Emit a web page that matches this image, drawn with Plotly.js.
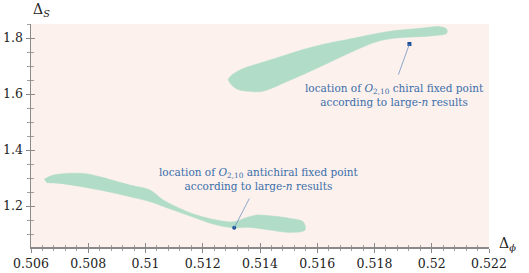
<!DOCTYPE html>
<html><head><meta charset="utf-8">
<script src="https://cdn.plot.ly/plotly-3.0.1.min.js"></script>
<style>html,body{margin:0;padding:0;background:#fff}</style>
</head><body>
<div id="chart" style="width:529px;height:273px"></div>
<script>
// Upper island (chiral) outline
const chiralX = [0.51288,0.51295,0.51330,0.51435,0.51586,0.51726,0.51843,0.51959,0.52029,0.52052,0.52052,0.52005,0.51866,0.51808,0.51749,0.51610,0.51493,0.51412,0.51377,0.51319,0.51295];
const chiralY = [1.6500,1.6618,1.6857,1.7214,1.7689,1.7989,1.8225,1.8346,1.8404,1.8321,1.8168,1.8082,1.7989,1.7868,1.7632,1.6975,1.6439,1.6107,1.6082,1.6179,1.6382];
// Lower island (antichiral) outline
const antiX = [0.50646,0.50678,0.50783,0.50841,0.50946,0.51016,0.51062,0.51120,0.51179,0.51249,0.51307,0.51354,0.51388,0.51435,0.51505,0.51551,0.51557,0.51505,0.51435,0.51365,0.51307,0.51249,0.51179,0.51097,0.51016,0.50946,0.50841,0.50701,0.50655];
const antiY = [1.2954,1.3107,1.3168,1.3046,1.2750,1.2571,1.2214,1.1918,1.1679,1.1500,1.1439,1.1596,1.1679,1.1654,1.1561,1.1439,1.1143,1.1061,1.1143,1.1239,1.1225,1.1321,1.1561,1.1857,1.2154,1.2332,1.2571,1.2811,1.2832];
// Large-n fixed points
const pointX = [0.51922, 0.51310];
const pointY = [1.7786, 1.1225];
const pointSymbols = ["square","circle"];
// Ticks
const xTickVals = [0.506,0.508,0.510,0.512,0.514,0.516,0.518,0.520,0.522];
const xTickText = ["0.506","0.508","0.51","0.512","0.514","0.516","0.518","0.52","0.522"];
const yTickVals = [1.2,1.4,1.6,1.8];
const yTickText = ["1.2","1.4","1.6","1.8"];
const xRange = [0.506, 0.522];
const yRange = [1.054, 1.85];

const green = '#b1dcc7';
const traces = [
  {x: chiralX, y: chiralY, mode:'lines', fill:'toself', fillcolor:green,
   line:{color:green, width:0.5, shape:'spline', smoothing:1}, hoverinfo:'skip', showlegend:false},
  {x: antiX, y: antiY, mode:'lines', fill:'toself', fillcolor:green,
   line:{color:green, width:0.5, shape:'spline', smoothing:1}, hoverinfo:'skip', showlegend:false},
  {x: pointX, y: pointY, mode:'markers', marker:{color:'#1b4f9a', size:4, symbol:pointSymbols},
   showlegend:false, hoverinfo:'skip'},
  {x: [], y: [], xaxis:'x2', yaxis:'y2', showlegend:false}
];

const serif = 'DejaVu Serif';
const axisColor = '#8a8a8a';
const tickFont = {family: serif, size: 12.5, color:'#222'};
const textBlue = '#3a6eaa';

const layout = {
  width:529, height:273,
  margin:{l:31, r:40, t:24, b:26},
  paper_bgcolor:'#ffffff', plot_bgcolor:'#fdf1ed',
  showlegend:false,
  xaxis:{range:xRange, tickvals:xTickVals, ticktext:xTickText, ticks:'outside', ticklen:4,
    tickcolor:axisColor, tickwidth:1, showline:true, linecolor:axisColor, linewidth:1.5,
    showgrid:false, zeroline:false, tickfont:tickFont,
    minor:{dtick:0.0004, tick0:0.506, ticks:'outside', ticklen:2.5, tickcolor:axisColor, tickwidth:0.8}},
  yaxis:{range:yRange, tickvals:yTickVals, ticktext:yTickText, ticks:'outside', ticklen:4,
    tickcolor:axisColor, tickwidth:1, showline:true, linecolor:axisColor, linewidth:1.5,
    showgrid:false, zeroline:false, tickfont:tickFont,
    minor:{dtick:0.05, tick0:1.05, ticks:'outside', ticklen:2.5, tickcolor:axisColor, tickwidth:0.8}},
  xaxis2:{range:xRange, overlaying:'x', anchor:'y2', side:'bottom', tickvals:xTickVals, ticks:'inside', ticklen:4,
    tickcolor:axisColor, tickwidth:1, showticklabels:false, showline:false, showgrid:false, zeroline:false,
    minor:{dtick:0.0004, tick0:0.506, ticks:'inside', ticklen:2.5, tickcolor:axisColor, tickwidth:0.8}},
  yaxis2:{range:yRange, overlaying:'y', anchor:'x2', side:'left', tickvals:yTickVals, ticks:'inside', ticklen:4,
    tickcolor:axisColor, tickwidth:1, showticklabels:false, showline:false, showgrid:false, zeroline:false,
    minor:{dtick:0.05, tick0:1.05, ticks:'inside', ticklen:2.5, tickcolor:axisColor, tickwidth:0.8}},
  annotations:[
    {xref:'paper', yref:'paper', x:0, y:1, xshift:0, yshift:3, xanchor:'left', yanchor:'bottom',
     text:'Δ<sub><i>S</i></sub>', showarrow:false, font:{family:serif, size:14, color:'#222'}},
    {xref:'paper', yref:'paper', x:1, y:0, xshift:8, yshift:-8, xanchor:'left', yanchor:'bottom',
     text:'Δ<sub><i>ϕ</i></sub>', showarrow:false, font:{family:serif, size:14, color:'#222'}},
    // leader lines
    {x:pointX[0], y:pointY[0], ax:-14, ay:39, text:' ', showarrow:true, arrowhead:0, arrowwidth:0.8, arrowcolor:'#6f93c0', standoff:0, startstandoff:0},
    {x:pointX[1], y:pointY[1], ax:18, ay:-35, text:' ', showarrow:true, arrowhead:0, arrowwidth:0.8, arrowcolor:'#6f93c0', standoff:0, startstandoff:0},
    // labels
    {x:0.51870, y:1.5964, xanchor:'center', yanchor:'middle', showarrow:false,
     text:'location of <i>O</i><sub>2,10</sub> chiral fixed point<br>according to large-<i>n</i> results',
     font:{family:serif, size:10.5, color:textBlue}},
    {x:0.51396, y:1.2964, xanchor:'center', yanchor:'middle', showarrow:false,
     text:'location of <i>O</i><sub>2,10</sub> antichiral fixed point<br>according to large-<i>n</i> results',
     font:{family:serif, size:10.5, color:textBlue}}
  ]
};
Plotly.newPlot('chart', traces, layout, {staticPlot:true, displayModeBar:false});
</script>
</body></html>
